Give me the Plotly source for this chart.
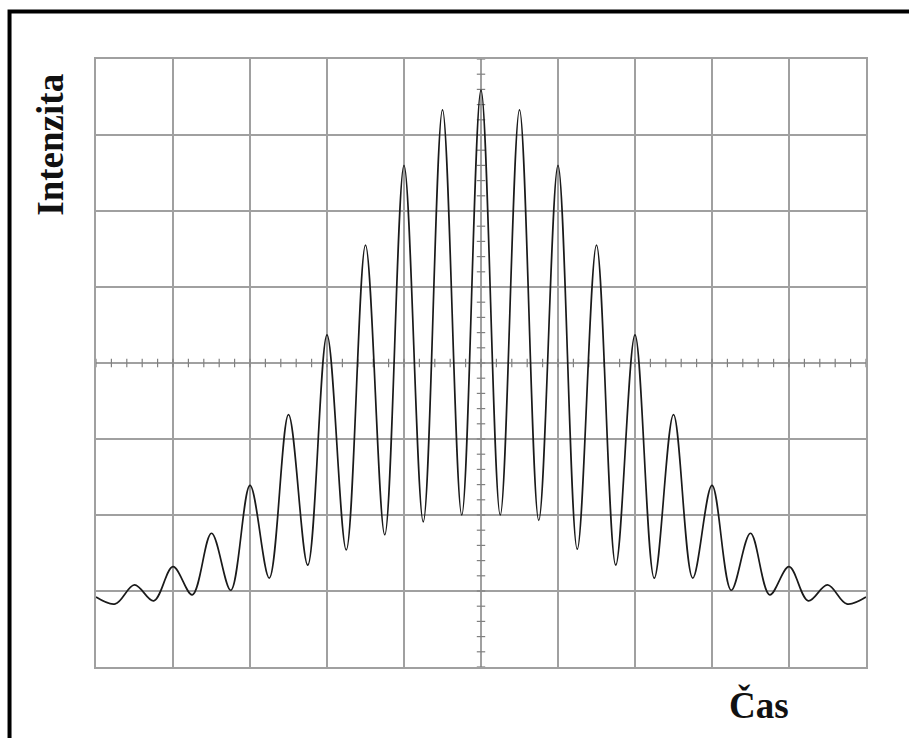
import plotly.graph_objects as go
import numpy as np

# Time in screen divisions (0..10), intensity in divisions (0..8)
time_div = [0.0, 0.25, 0.5, 0.75, 1.0, 1.25, 1.5, 1.75, 2.0, 2.25, 2.5, 2.75,
            3.0, 3.25, 3.5, 3.75, 4.0, 4.25, 4.5, 4.75, 5.0,
            5.25, 5.5, 5.75, 6.0, 6.25, 6.5, 6.75, 7.0, 7.25, 7.5, 7.75,
            8.0, 8.25, 8.5, 8.75, 9.0, 9.25, 9.5, 9.75, 10.0]
intensity = [0.92, 0.83, 1.08, 0.87, 1.32, 0.95, 1.76, 1.01, 2.39, 1.17, 3.32, 1.34,
             4.37, 1.54, 5.55, 1.74, 6.60, 1.91, 7.33, 2.00, 7.59,
             2.00, 7.33, 1.93, 6.60, 1.55, 5.55, 1.34, 4.37, 1.17, 3.32, 1.17,
             2.39, 1.01, 1.76, 0.95, 1.32, 0.87, 1.08, 0.83, 0.92]

x_label = "Čas"
y_label = "Intenzita"

grid_col = "#a0a0a0"

fig = go.Figure()

# minor tick marks along centre axes (graticule decoration)
minor_x = np.arange(0, 10.001, 0.2)
minor_y = np.arange(0, 8.001, 0.2)
fig.add_trace(go.Scatter(x=minor_x, y=[4] * len(minor_x), mode="markers",
                         marker=dict(symbol="line-ns", size=6,
                                     line=dict(color="#808080", width=1.2)),
                         hoverinfo="skip", showlegend=False))
fig.add_trace(go.Scatter(x=[5] * len(minor_y), y=minor_y, mode="markers",
                         marker=dict(symbol="line-ew", size=6,
                                     line=dict(color="#808080", width=1.2)),
                         hoverinfo="skip", showlegend=False))

fig.add_trace(go.Scatter(x=time_div, y=intensity, mode="lines",
                         line=dict(color="#1a1a1a", width=1.7, shape="spline", smoothing=1.0),
                         showlegend=False))

fig.update_xaxes(range=[0, 10], dtick=1, showgrid=True, gridcolor=grid_col, gridwidth=2,
                 showticklabels=False, zeroline=False, showline=True, linecolor=grid_col,
                 linewidth=2, mirror=True, ticks="")
fig.update_yaxes(range=[0, 8], dtick=1, showgrid=True, gridcolor=grid_col, gridwidth=2,
                 showticklabels=False, zeroline=False, showline=True, linecolor=grid_col,
                 linewidth=2, mirror=True, ticks="")

fig.add_annotation(text=y_label, xref="paper", yref="paper", x=-0.0585, y=0.859,
                   xanchor="center", yanchor="middle",
                   showarrow=False, textangle=-90,
                   font=dict(family="Liberation Serif", size=37, color="#111", weight="bold"))
fig.add_annotation(text=x_label, xref="paper", yref="paper", x=0.861, y=-0.062,
                   xanchor="center", yanchor="middle",
                   showarrow=False,
                   font=dict(family="Liberation Serif", size=37, color="#111", weight="bold"))

# outer frame
fig.add_shape(type="rect", xref="paper", yref="paper", x0=-0.1123, x1=1.2, y0=-0.3, y1=1.078,
              line=dict(color="black", width=4), fillcolor="rgba(0,0,0,0)", layer="above")

fig.update_layout(width=909, height=738, margin=dict(l=96, r=43, t=59, b=71),
                  paper_bgcolor="white", plot_bgcolor="white")

fig.write_html("out.html")
